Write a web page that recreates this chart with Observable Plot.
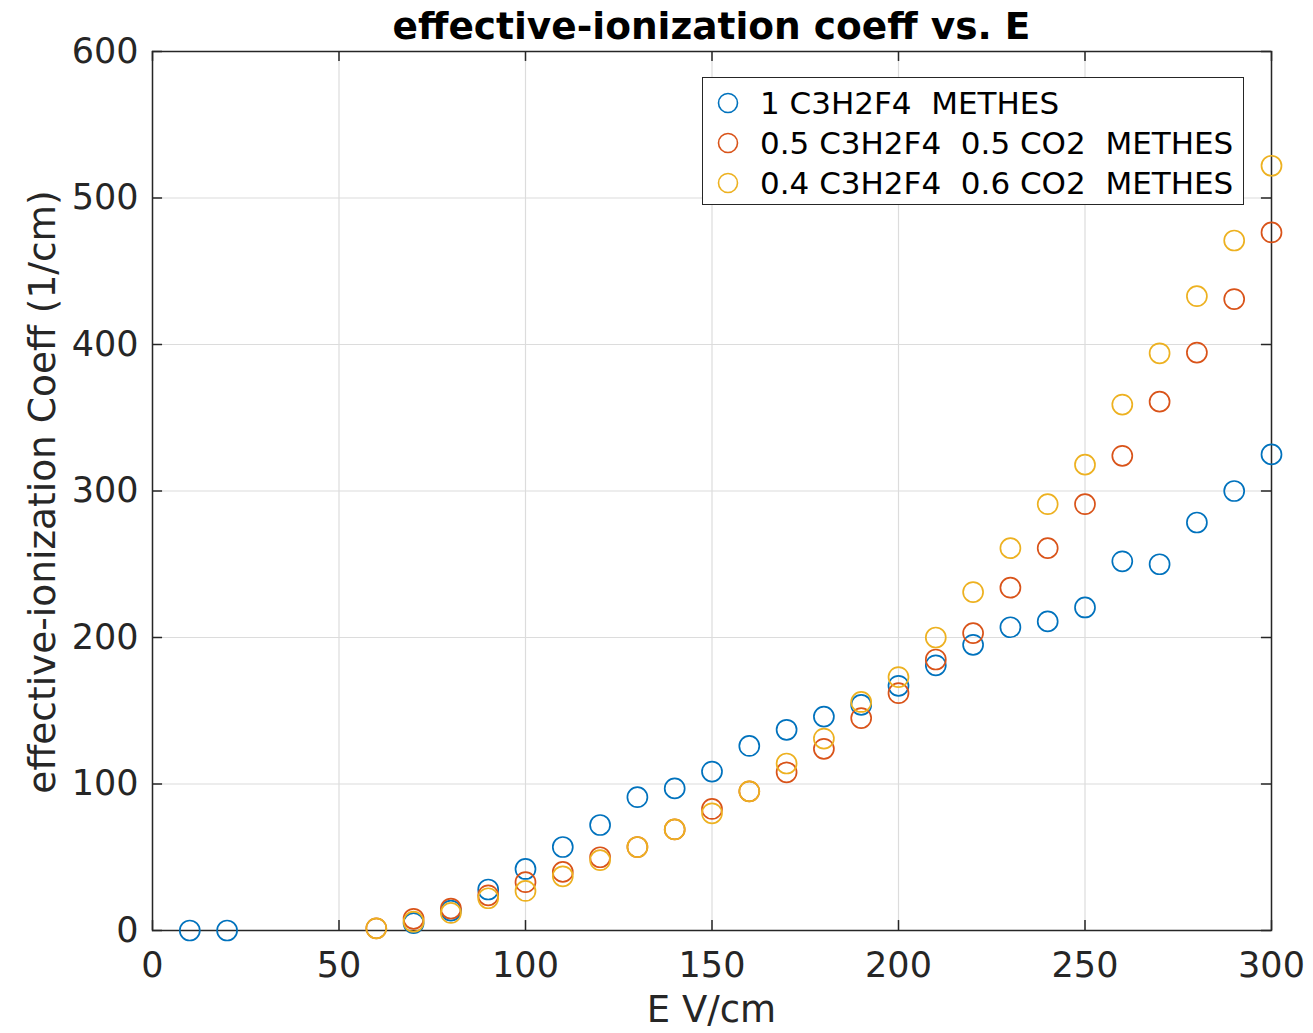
<!DOCTYPE html>
<html>
<head>
<meta charset="utf-8">
<script src="https://cdn.jsdelivr.net/npm/d3@7"></script>
<script src="https://cdn.jsdelivr.net/npm/@observablehq/plot@0.6"></script>
<style>
  html, body { margin: 0; padding: 0; background: #fff; }
  #wrap { position: relative; width: 1313px; height: 1033px; font-family: "DejaVu Sans", sans-serif; color: #262626; overflow: hidden; }
  #title { position: absolute; left: 152px; width: 1119px; top: 4px; text-align: center; font-weight: bold; font-size: 37.5px; color: #000; line-height: 44px; }
  #xlabel { position: absolute; left: 152px; width: 1119px; top: 988px; text-align: center; font-size: 37px; line-height: 44px; }
  #ylabel { position: absolute; left: 42px; top: 492px; transform: translate(-50%, -50%) rotate(-90deg); white-space: nowrap; font-size: 37.5px; line-height: 44px; }
  #legend { position: absolute; left: 702px; top: 77px; width: 540px; height: 126px; border: 1.5px solid #262626; background: #fff; }
  .row { position: absolute; left: 0; height: 40px; line-height: 40px; font-size: 31px; color: #000; white-space: pre; }
  .row svg { position: absolute; left: 14px; top: 9px; }
  .row span { position: absolute; left: 57px; top: 0; }
</style>
</head>
<body>
<div id="wrap">
  <div id="plot"></div>
  <div id="title">effective-ionization coeff vs. E</div>
  <div id="xlabel">E V/cm</div>
  <div id="ylabel">effective-ionization Coeff (1/cm)</div>
  <div id="legend"></div>
</div>
<script>
// ---- data ----
const seriesNames = ["1 C3H2F4  METHES", "0.5 C3H2F4  0.5 CO2  METHES", "0.4 C3H2F4  0.6 CO2  METHES"];
const seriesColors = ["#0072BD", "#D95319", "#EDB120"];

const blueE = [10, 20, 70, 80, 90, 100, 110, 120, 130, 140, 150, 160, 170, 180, 190, 200, 210, 220, 230, 240, 250, 260, 270, 280, 290, 300];
const blueV = [0, 0, 5, 13.6, 28, 42, 57, 72, 91, 97, 108.5, 126, 137, 146, 154, 167, 181, 195, 207, 211, 220.5, 252, 250, 278.5, 300, 325];

const redE = [60, 70, 80, 90, 100, 110, 120, 130, 140, 150, 160, 170, 180, 190, 200, 210, 220, 230, 240, 250, 260, 270, 280, 290, 300];
const redV = [1.5, 8, 15, 24, 33, 40, 50, 57, 69, 83, 95, 108, 124, 145, 162, 185, 203, 234, 261, 291, 324, 361, 394.5, 431, 476.5];

const yellowE = [60, 70, 80, 90, 100, 110, 120, 130, 140, 150, 160, 170, 180, 190, 200, 210, 220, 230, 240, 250, 260, 270, 280, 290, 300];
const yellowV = [1.5, 6, 12, 22, 27, 37, 48, 57, 69, 80, 95, 114, 131, 156, 173, 200, 231, 261, 291, 318, 359, 394, 433, 471, 522];

const xTicks = [0, 50, 100, 150, 200, 250, 300];
const yTicks = [0, 100, 200, 300, 400, 500, 600];

// ---- build ----
const allE = [blueE, redE, yellowE];
const allV = [blueV, redV, yellowV];
const rows = [];
allE.forEach((es, s) => es.forEach((e, i) => rows.push({E: e, V: allV[s][i], s})));

const axisColor = "#262626";
const tickLenY = 6.8;   // inward tick length in y units (~10px)
const tickLenX = 2.7;   // inward tick length in x units (~10px)

const chart = Plot.plot({
  width: 1313,
  height: 1033,
  marginLeft: 152,
  marginRight: 42,
  marginTop: 51,
  marginBottom: 103,
  style: {fontFamily: "DejaVu Sans, sans-serif", fontSize: "35px", color: axisColor, background: "#fff"},
  x: {domain: [0, 300], ticks: xTicks, label: null},
  y: {domain: [0, 600], ticks: yTicks, label: null},
  marks: [
    Plot.gridX(xTicks, {stroke: "#dcdcdc", strokeOpacity: 1, strokeWidth: 1.2}),
    Plot.gridY(yTicks, {stroke: "#dcdcdc", strokeOpacity: 1, strokeWidth: 1.2}),
    Plot.ruleX(xTicks, {x: d => d, y1: 0, y2: tickLenY, stroke: axisColor, strokeWidth: 1.5}),
    Plot.ruleX(xTicks, {x: d => d, y1: 600, y2: 600 - tickLenY, stroke: axisColor, strokeWidth: 1.5}),
    Plot.ruleY(yTicks, {y: d => d, x1: 0, x2: tickLenX, stroke: axisColor, strokeWidth: 1.5}),
    Plot.ruleY(yTicks, {y: d => d, x1: 300, x2: 300 - tickLenX, stroke: axisColor, strokeWidth: 1.5}),
    Plot.frame({stroke: axisColor, strokeWidth: 1.5}),
    Plot.axisX(xTicks, {tickSize: 0, tickPadding: 22, fontSize: 35, fill: axisColor, label: null}),
    Plot.axisY(yTicks, {tickSize: 0, tickPadding: 14, fontSize: 35, fill: axisColor, label: null}),
    Plot.dot(rows, {x: "E", y: "V", r: 10, stroke: d => seriesColors[d.s], strokeWidth: 1.7, fill: "none"})
  ]
});
document.getElementById("plot").appendChild(chart);

// legend
const legend = document.getElementById("legend");
seriesNames.forEach((name, i) => {
  const row = document.createElement("div");
  row.className = "row";
  row.style.top = (5 + i * 40) + "px";
  row.style.width = "100%";
  row.innerHTML = `<svg width="22" height="22"><circle cx="11" cy="11" r="9.5" fill="none" stroke="${seriesColors[i]}" stroke-width="1.6"/></svg><span></span>`;
  row.querySelector("span").textContent = name;
  legend.appendChild(row);
});
</script>
</body>
</html>
